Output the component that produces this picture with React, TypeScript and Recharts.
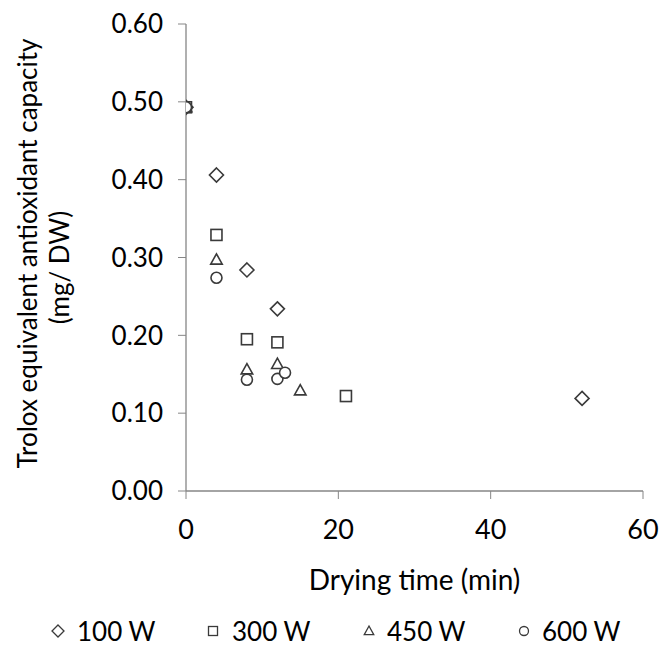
import React from 'react';
import { ScatterChart, Scatter, XAxis, YAxis, Legend } from 'recharts';

const FONT = 'Lato, "Open Sans", sans-serif';

const series100W = [
  { x: 0, y: 0.493 },
  { x: 4, y: 0.406 },
  { x: 8, y: 0.284 },
  { x: 12, y: 0.234 },
  { x: 52, y: 0.119 },
];
const series300W = [
  { x: 0, y: 0.493 },
  { x: 4, y: 0.329 },
  { x: 8, y: 0.195 },
  { x: 12, y: 0.191 },
  { x: 21, y: 0.122 },
];
const series450W = [
  { x: 0, y: 0.493 },
  { x: 4, y: 0.297 },
  { x: 8, y: 0.156 },
  { x: 12, y: 0.163 },
  { x: 15, y: 0.129 },
];
const series600W = [
  { x: 0, y: 0.493 },
  { x: 4, y: 0.274 },
  { x: 8, y: 0.143 },
  { x: 12, y: 0.144 },
  { x: 13, y: 0.152 },
];

const xTicks = [0, 20, 40, 60];
const yTicks = [0, 0.1, 0.2, 0.3, 0.4, 0.5, 0.6];
const seriesNames = ['100 W', '300 W', '450 W', '600 W'];
const seriesShapes = ['diamond', 'square', 'triangle', 'circle'];

const STROKE = '#3a3a3a';
const AXIS = '#868686';

function markerPath(kind: string, cx: number, cy: number, s: number) {
  const h = s / 2;
  if (kind === 'diamond') {
    return <path d={`M${cx},${cy - h}L${cx + h},${cy}L${cx},${cy + h}L${cx - h},${cy}Z`} />;
  }
  if (kind === 'square') {
    return <rect x={cx - h} y={cy - h} width={s} height={s} />;
  }
  if (kind === 'triangle') {
    return <path d={`M${cx},${cy - h * 1.05}L${cx + h},${cy + h * 0.75}L${cx - h},${cy + h * 0.75}Z`} />;
  }
  return <circle cx={cx} cy={cy} r={h} />;
}

const sizes: Record<string, number> = { diamond: 14, square: 11, triangle: 11.5, circle: 11 };

const makeShape = (kind: string) => (props: any) => {
  const { cx, cy } = props;
  return (
    <g fill="#fff" stroke={STROKE} strokeWidth={1.6}>
      {markerPath(kind, cx, cy, sizes[kind])}
    </g>
  );
};

const legendItems = [
  { icon: 58, text: 77 },
  { icon: 213, text: 232 },
  { icon: 369, text: 387 },
  { icon: 524, text: 542 },
];
const legendSizes: Record<string, number> = { diamond: 12, square: 9, triangle: 9.5, circle: 9 };

const renderLegend = () => (
  <div style={{ position: 'relative', width: 664, height: 28 }}>
    {legendItems.map((it, i) => (
      <React.Fragment key={i}>
        <svg
          width={20}
          height={20}
          style={{ position: 'absolute', left: it.icon - 10, top: 4 }}
        >
          <g fill="#fff" stroke={STROKE} strokeWidth={1.3}>
            {markerPath(seriesShapes[i], 10, 10, legendSizes[seriesShapes[i]])}
          </g>
        </svg>
        <span
          style={{
            position: 'absolute',
            left: it.text,
            top: 0,
            height: 28,
            lineHeight: '28px',
            fontSize: 26,
            fontFamily: FONT,
            color: '#000',
            whiteSpace: 'nowrap',
          }}
        >
          {seriesNames[i]}
        </span>
      </React.Fragment>
    ))}
  </div>
);

const renderYLabel = (props: any) => {
  const vb = props.viewBox || { x: 0, y: 24, width: 186, height: 467 };
  const cy1 = vb.y + vb.height / 2 - 4;
  const cy2 = vb.y + vb.height / 2 + 10;
  return (
    <g fontFamily={FONT} fontSize={26} fill="#000">
      <text x={37} y={cy1} textAnchor="middle" transform={`rotate(-90 37 ${cy1})`}>
        Trolox equivalent antioxidant capacity
      </text>
      <text x={69} y={cy2} textAnchor="middle" transform={`rotate(-90 69 ${cy2})`}>
        (mg/ DW)
      </text>
    </g>
  );
};

const renderXLabel = (props: any) => {
  const vb = props.viewBox || { x: 186, y: 491, width: 457, height: 111 };
  const x = vb.x + vb.width / 2;
  return (
    <text x={x} y={590} textAnchor="middle" fontFamily={FONT} fontSize={28} fill="#000">
      Drying time (min)
    </text>
  );
};

export default function App() {
  return (
    <div style={{ position: 'absolute', left: 0, top: 0, width: 664, height: 646, background: '#fff' }}>
      <ScatterChart
        width={664}
        height={646}
        margin={{ top: 24, right: 21, left: 0, bottom: 44 }}
      >
        <XAxis
          type="number"
          dataKey="x"
          domain={[0, 60]}
          ticks={xTicks}
          interval={0}
          allowDataOverflow
          height={111}
          tickSize={8}
          tickMargin={21}
          stroke={AXIS}
          tickLine={{ stroke: AXIS }}
          axisLine={{ stroke: AXIS, strokeWidth: 1.3 }}
          tick={{ fill: '#000', fontSize: 27, fontFamily: FONT }}
          label={{ content: renderXLabel }}
        />
        <YAxis
          type="number"
          dataKey="y"
          domain={[0, 0.6]}
          ticks={yTicks}
          interval={0}
          allowDataOverflow
          width={186}
          tickSize={8}
          tickMargin={15}
          stroke={AXIS}
          tickLine={{ stroke: AXIS }}
          axisLine={{ stroke: AXIS, strokeWidth: 1.3 }}
          tick={{ fill: '#000', fontSize: 26, fontFamily: FONT }}
          tickFormatter={(v: number) => v.toFixed(2)}
          label={{ content: renderYLabel }}
        />
        <Legend
          layout="horizontal"
          verticalAlign="middle"
          align="center"
          content={renderLegend}
          wrapperStyle={{ position: 'absolute', left: 0, top: 617, width: 664, height: 28 }}
        />
        <Scatter name={seriesNames[0]} data={series100W} legendType="diamond" shape={makeShape('diamond')} isAnimationActive={false} />
        <Scatter name={seriesNames[1]} data={series300W} legendType="square" shape={makeShape('square')} isAnimationActive={false} />
        <Scatter name={seriesNames[2]} data={series450W} legendType="triangle" shape={makeShape('triangle')} isAnimationActive={false} />
        <Scatter name={seriesNames[3]} data={series600W} legendType="circle" shape={makeShape('circle')} isAnimationActive={false} />
      </ScatterChart>
    </div>
  );
}
